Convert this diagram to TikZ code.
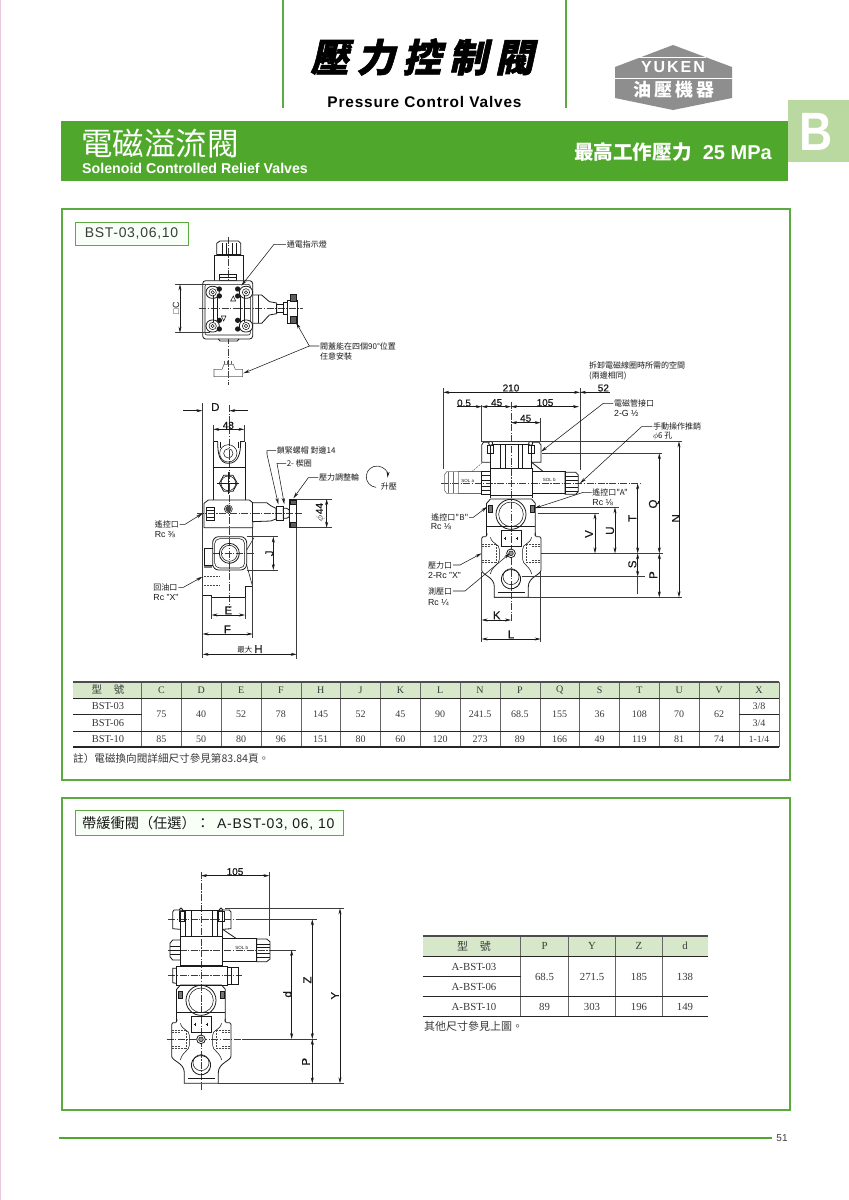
\documentclass[tikz,border=0pt]{standalone}
\usepackage{fontspec}
\usetikzlibrary{arrows.meta,calc}
\setmainfont{Liberation Sans}
\newfontfamily\cjk{Noto Sans CJK TC}
\newfontfamily\cjktitle[FakeSlant=0.22,FakeBold=1.5,LetterSpace=20]{Noto Sans CJK TC}
\newfontfamily\rmser{Liberation Serif}
\newfontfamily\dimf[FakeBold=0.5]{Liberation Sans}
\definecolor{barg}{HTML}{4FA82C}
\definecolor{edgeg}{HTML}{5CAB40}
\definecolor{tabg}{HTML}{B9D9A0}
\definecolor{headg}{HTML}{D6E8C9}
\definecolor{logog}{HTML}{8E8E8E}
\definecolor{inkc}{HTML}{1A1A1A}
\definecolor{tabtxt}{HTML}{3A3A3A}
\newcommand{\fsz}[1]{\fontsize{#1}{#1}\selectfont}
\tikzset{
 ln/.style={line width=.55pt,draw=inkc},
 bodyl/.style={line width=.8pt,draw=inkc},
 thinl/.style={line width=.45pt,draw=inkc!85},
 cl/.style={line width=.4pt,draw=inkc!85,dash pattern=on 7pt off 1.5pt on 1.2pt off 1.5pt},
 hid/.style={line width=.4pt,draw=inkc!80,dash pattern=on 2pt off 1pt},
 dl/.style={ln,{Stealth[length=6pt,width=3pt]}-{Stealth[length=6pt,width=3pt]}},
 da/.style={ln,-{Stealth[length=6pt,width=3pt]}},
 lead/.style={ln,-{Stealth[length=6.5pt,width=3pt]}},
 dt/.style={inner sep=0pt,text=inkc,font=\dimf\fsz{10}},
 dtl/.style={inner sep=0pt,text=inkc,font=\dimf\fsz{11.5}},
 lb/.style={inner sep=.6pt,text=inkc,font=\cjk\fsz{8},anchor=west},
 lbr/.style={inner sep=.6pt,text=inkc,font=\fsz{8.8},anchor=west},
 tt/.style={inner sep=0pt,text=tabtxt,font=\rmser\fsz{10}},
 panel/.style={draw=edgeg,line width=1.6pt,fill=white},
 tagbox/.style={draw=edgeg,line width=1pt,fill=green!3!white},
}
\newcommand{\lowerbody}[2]{%
 \begin{scope}[shift={(#1,#2)}]
 \draw[bodyl] (-73,-150)--(-62,-163)--(62,-163)--(73,-150)--(73,-52);
 \draw[bodyl] (-73,-150)--(-73,-52);
 \draw[ln] (-73,-80)--(73,-80);
 \draw[bodyl] (-76,-50) .. controls (-70,-52) and (-72,-60) .. (-73,-62);
 \draw[bodyl] (76,-50) .. controls (70,-52) and (72,-60) .. (73,-62);
 \draw[bodyl] (-76,-50)--(-84,-50)--(-88,-45)--(-88,50) .. controls (-88,65) and (-50,70) .. (-50,100)--(-50,132)--(52,132)--(52,100) .. controls (52,70) and (90,65) .. (90,50)--(90,-45)--(86,-50)--(76,-50);
 \draw[ln] (-62,-48) .. controls (-55,-25) and (-35,-30) .. (-35,-12)--(-35,18) .. controls (-35,35) and (-55,35) .. (-62,62);
 \draw[ln] (62,-48) .. controls (55,-25) and (35,-30) .. (35,-12)--(35,18) .. controls (35,35) and (55,35) .. (62,62);
 \draw[hid] (-86,-28)--(-45,-28) (-86,28)--(-45,28) (-45,-28)--(-45,28) (-86,-20)--(-60,-20) (-86,20)--(-60,20);
 \draw[hid] (88,-28)--(47,-28) (88,28)--(47,28) (47,-28)--(47,28) (88,-20)--(62,-20) (88,20)--(62,20);
 \draw[bodyl] (0,-117) circle[radius=45];
 \draw[ln] (0,-117) circle[radius=37];
 \draw[bodyl] (-30,-70) rectangle (32,-20);
 \draw[ln] (-22,-45)--(-14,-45) (-18,-50)--(-18,-40) (14,-45)--(22,-45) (18,-50)--(18,-40);
 \draw[bodyl,fill=inkc!60] (-68,-144) rectangle (-56,-124);
 \draw[bodyl,fill=inkc!60] (57,-144) rectangle (69,-124);
 \draw[bodyl,fill=white] (0,0) circle[radius=13];
 \draw[ln,fill=inkc!45] (0,0) circle[radius=7];
 \draw[bodyl] (-28,85) arc[start angle=165,end angle=-345,radius=29];
 \draw[ln] (0,70) circle[radius=24];
 \draw[ln] (-40,118)--(42,118);
 \end{scope}}
\begin{document}
\begin{tikzpicture}[x=1pt,y=-1pt]
\useasboundingbox (0,0) rectangle (849,1200);
\fill[white] (0,0) rectangle (849,1200);
\fill[pink!50!violet!35!white] (0,0) rectangle (1.2,1200);
% header
\draw[edgeg,line width=1.3pt] (283,0)--(283,108) (566,0)--(566,108);
\node[inner sep=0pt,text=black] (ttl) at (422,57) {\cjktitle\bfseries\fsz{38.5}壓力控制閥};
\node[inner sep=0pt,text=black] (ttlen) at (424.5,102) {\addfontfeature{LetterSpace=5.5}\bfseries\fsz{15.4}Pressure Control Valves};
\fill[logog] (673,45)--(732,67)--(732,98)--(673,110)--(615,98)--(615,67)--cycle;
\draw[white,line width=1pt] (615,78)--(732,78);
\draw[white,line width=1pt] (639,57)--(706,57);
\node[inner sep=0pt,text=white] (ykn) at (673,67) {\addfontfeature{LetterSpace=12}\bfseries\fsz{16}YUKEN};
\node[inner sep=0pt,text=white] (yjp) at (674,90) {\cjk\addfontfeature{LetterSpace=18}\bfseries\fsz{18}油壓機器};
\fill[barg] (60.5,121) rectangle (788,181);
\fill[tabg] (788,100) rectangle (849,162);
\node[inner sep=0pt,text=white,transform shape,xscale=.85] (bmark) at (816,132) {\bfseries\fsz{54}B};
\node[inner sep=0pt,text=white,anchor=west] (cnt) at (81,144) {\cjk\fsz{31.5}電磁溢流閥};
\node[inner sep=0pt,text=white,anchor=west] (ent) at (82,168) {\bfseries\fsz{14.2}Solenoid Controlled Relief Valves};
\node[inner sep=0pt,text=white,anchor=east] (prs) at (772,152) {\bfseries\fsz{20}{\cjk\bfseries\fsz{19.6}最高工作壓力}\ \ 25 MPa};
% panels
\draw[panel] (62,209) rectangle (790,780);
\draw[panel] (62,798) rectangle (790,1110);
\draw[tagbox] (75,222) rectangle (188,245);
\node[inner sep=0pt,text=inkc!85] (tag1) at (131.5,233.5) {\addfontfeature{LetterSpace=5}\fsz{14}BST-03,06,10};
\draw[tagbox] (75,810) rectangle (343,835);
\node[inner sep=0pt,text=inkc,anchor=west] (tag2) at (82,823) {{\cjk\fsz{14.2}帶緩衝閥（任選）：}\hspace{7pt}\addfontfeature{LetterSpace=5.5}\fsz{14}A-BST-03, 06, 10};
% footer
\draw[barg,line width=1.2pt] (59,1138)--(772,1138);
\node[inner sep=0pt,text=inkc!85] (pg) at (782,1138) {\fsz{10}51};

% ---------- Table 1
\fill[headg] (73,682) rectangle (779,698);
\foreach \i in {0,...,16}{\draw[line width=.5pt,draw=black!60] ({141.5+39.83*\i},682)--({141.5+39.83*\i},747);}
\draw[line width=1.2pt,draw=black!70] (73,682)--(779,682);
\draw[line width=1pt,draw=black!85] (73,698)--(779,698);
\draw[line width=.9pt,draw=black!85] (73,714.4)--(141.5,714.4) (739,714.4)--(779,714.4);
\draw[line width=1pt,draw=black!85] (73,731)--(779,731);
\draw[line width=1.2pt,draw=black!85] (73,747)--(779,747);
\node[tt,font=\cjk\fsz{10.5}] (h0) at (108,690) {型\hspace{12pt}號};
\node[tt,font=\rmser\fsz{10.5}] (m1) at (108,706.5) {BST-03};
\node[tt,font=\rmser\fsz{10.5}] (m2) at (108,723) {BST-06};
\node[tt,font=\rmser\fsz{10.5}] (m3) at (108,739) {BST-10};
\foreach \n/\a/\b [count=\i from 0] in {C/75/85,D/40/50,E/52/80,F/78/96,H/145/151,J/52/80,K/45/60,L/90/120,N/241.5/273,P/68.5/89,Q/155/166,S/36/49,T/108/119,U/70/81,V/62/74}{
 \node[tt,name=hc\i] at ({161.4+39.83*\i},690) {\n};
 \node[tt,name=va\i] at ({161.4+39.83*\i},714.5) {\a};
 \node[tt,name=vb\i] at ({161.4+39.83*\i},739) {\b};
}
\node[tt] (hx) at (759,690) {X};
\node[tt] (x1) at (759,706.5) {3/8};
\node[tt] (x2) at (759,723) {3/4};
\node[tt,font=\rmser\fsz{9.5}] (x3) at (759,739) {1-1/4};
\node[inner sep=0pt,text=tabtxt,anchor=west] (nt1) at (73,758.5) {\cjk\fsz{10.6}註）電磁換向閥詳細尺寸參見第83.84頁。};

% ---------- Table 2
\fill[headg] (422.7,936) rectangle (708,956);
\foreach \x in {520.7,568,615.7,662.7}{\draw[line width=.5pt,draw=black!60] (\x,936)--(\x,1016.7);}
\draw[line width=1.2pt,draw=black!70] (422.7,936)--(708,936);
\draw[line width=1pt,draw=black!85] (422.7,956.3)--(708,956.3);
\draw[line width=.9pt,draw=black!85] (422.7,976.3)--(520.7,976.3);
\draw[line width=1pt,draw=black!85] (422.7,996.7)--(708,996.7);
\draw[line width=1.2pt,draw=black!85] (422.7,1016.7)--(708,1016.7);
\tikzset{t2/.style={tt,font=\rmser\fsz{10.8}}}
\node[t2,font=\cjk\fsz{11}] (k0) at (474,946) {型\hspace{12pt}號};
\node[t2] (k1) at (474,966.5) {A-BST-03};
\node[t2] (k2) at (474,987) {A-BST-06};
\node[t2] (k3) at (474,1007) {A-BST-10};
\foreach \n/\a/\b/\x [count=\i] in {P/68.5/89/544.5,Y/271.5/303/592,Z/185/196/639,d/138/149/685}{
 \node[t2,name=kh\i] at (\x,946) {\n};
 \node[t2,name=ka\i] at (\x,976.5) {\a};
 \node[t2,name=kb\i] at (\x,1007) {\b};
}
\node[inner sep=0pt,text=tabtxt,anchor=west] (nt2) at (424,1026.7) {\cjk\fsz{11}其他尺寸參見上圖。};

% ---------- Fig A (top view)
\begin{scope}[shift={(70,215)},x=.33333pt,y=-.33333pt]
\draw[cl] (476,65)--(476,510);
\draw[cl] (388,280)--(700,280);
\draw[bodyl] (440,122)--(440,85)--(450,78)--(505,78)--(512,85)--(512,122);
\draw[ln] (458,85)--(458,118) (468,85)--(468,118) (486,85)--(486,118) (498,85)--(498,118) (440,118)--(512,118);
\draw[bodyl] (432,200)--(432,122)--(520,122)--(520,200);
\draw[ln] (448,178)rectangle(500,197) (448,186)--(500,186);
\draw[bodyl,rounded corners=3pt,fill=white] (398,197) rectangle (548,372);
\draw[ln,rounded corners=2pt] (405,208) rectangle (541,360);
\draw[bodyl] (445,372)--(450,378)--(502,378)--(507,372);
\foreach \px/\py in {428/232,528/232,428/333,528/333}{
 \draw[bodyl,fill=white,rounded corners=6pt] (\px-20,\py-18) rectangle (\px+20,\py+18);
 \draw[ln] (\px,\py) circle[radius=11];
 \draw[ln] (\px,\py) circle[radius=5];
}
\draw[cl] (388,280)--(700,280);
\draw[ln] (430,240)--(430,320) (442,240)--(442,320) (510,240)--(510,320) (522,240)--(522,320);
\foreach \px/\py in {448/222,448/243,503/222,503/243,448/316,448/342,503/316,503/342}{
 \fill[inkc] (\px,\py) circle[radius=8];
}
\draw[ln] (482,258)--(497,258)--(490,243)--cycle (454,303)--(468,303)--(461,318)--cycle;
\draw[bodyl] (548,240)--(575,240)--(598,260)--(620,264)--(620,296)--(598,300)--(575,325)--(548,325);
\draw[ln] (565,240)--(565,325);
\draw[bodyl] (620,268) rectangle (640,292);
\draw[bodyl] (640,262)--(652,262)--(652,298)--(640,298)--cycle;
\draw[bodyl] (652,255) rectangle (682,325);
\draw[bodyl,fill=inkc!70] (660,238) rectangle (680,258);
\draw[bodyl,fill=inkc!70] (660,305) rectangle (680,325);
% lower small view
\draw[ln,draw=inkc!70] (432,463)--(432,485)--(518,485)--(518,463)--(496,463)--(490,448)--(462,448)--(456,463)--cycle;
\draw[ln,draw=inkc!70] (464,437)--(464,448) (472,437)--(472,448) (484,437)--(484,448);
% dims
\draw[thinl] (315,208)--(420,208) (315,353)--(420,353);
\draw[dl] (330,208)--(330,353);
\node[dt,rotate=90,font=\fsz{9}] (dimC) at (318,280) {□C};
% labels
\node[lb] (l1) at (648,88) {通電指示燈};
\coordinate (l1a) at (514,212);
\draw[lead] (l1.west)--(612,88)--(l1a);
\node[lb] (l2) at (748,393) {閥蓋能在四個90°位置};
\node[lb] (l2b) at (748,424) {任意安裝};
\coordinate (l2a) at (678,322);
\coordinate (l2c) at (520,475);
\draw[lead] (l2.west)--(718,393)--(l2a);
\draw[lead] (718,393)--(l2c);
\end{scope}

% ---------- Fig B (front view)
\begin{scope}[shift={(130,395)},x=.33333pt,y=-.33333pt]
\draw[cl] (298,30)--(298,640);
\draw[cl] (200,355)--(515,355);
\draw[cl] (250,475)--(375,475);
% top block
\draw[bodyl] (250,140)--(250,315) (345,140)--(345,315) (250,218)--(345,218);
\draw[bodyl] (250,140)--(265,140) (330,140)--(345,140);
\draw[bodyl] (263,140) .. controls (263,175) and (268,205) .. (295,205) .. controls (325,205) and (332,175) .. (332,140);
\draw[ln] (270,140)--(270,160) (325,140)--(325,160);
\draw[ln] (295,175) circle[radius=26];
\draw[ln] (295,175) circle[radius=14];
\draw[bodyl] (268,265)--(281,241)--(309,241)--(322,265)--(309,289)--(281,289)--cycle;
\draw[ln] (295,265) circle[radius=22];
\draw[ln] (262,265)--(328,265) (295,232)--(295,298);
% main block
\draw[bodyl] (222,398)--(222,325)--(235,315)--(358,315)--(368,323)--(410,323)--(422,332)--(438,340)--(438,372)--(422,378)--(368,380)--(368,398)--cycle;
\draw[ln] (368,323)--(368,380);
\draw[ln] (228,338) rectangle (252,375);
\draw[ln] (228,346)--(252,346) (228,366)--(252,366);
\fill[inkc!80] (295,342) circle[radius=9];
\draw[ln] (295,342) circle[radius=12];
% knob
\draw[bodyl] (438,335) rectangle (460,375);
\draw[bodyl] (460,340)--(470,340)--(478,345)--(478,365)--(470,370)--(460,370)--cycle;
\draw[bodyl] (478,312) rectangle (500,398);
\draw[bodyl,fill=inkc!70] (481,315) rectangle (498,328);
\draw[bodyl,fill=inkc!70] (481,382) rectangle (498,396);
% lower
\draw[bodyl] (218,398)--(218,602)--(245,602)--(245,607)--(345,607)--(345,575)--(368,575)--(368,398);
\draw[bodyl,rounded corners=6pt] (248,425) rectangle (350,525);
\draw[ln,rounded corners=5pt] (254,431) rectangle (344,519);
\draw[bodyl] (298,475) circle[radius=30];
\draw[ln] (298,475) circle[radius=24];
\draw[ln] (222,460)--(248,460) (222,510)--(248,510) (222,460)--(222,510);
\draw[ln] (350,465)--(372,428) (350,510)--(368,575);
\draw[hid] (222,545)--(270,545) (222,570)--(270,570);
\fill[inkc!60] (222,512) rectangle (245,520);
% dims
\draw[thinl] (217,25)--(217,790);
\draw[da] (160,47)--(217,47);
\draw[da] (355,47)--(298,47);
\node[dtl] (dD) at (256,36) {D};
\draw[thinl] (250,90)--(250,140) (343,90)--(343,140);
\draw[dl] (250,103)--(343,103);
\node[dt] (d48) at (295,91) {48};
\draw[thinl] (500,312)--(605,312) (500,398)--(605,398);
\draw[dl] (590,312)--(590,398);
\node[dt,rotate=90] (d44) at (571,352) {$\phi$\,44};
\draw[thinl] (350,425)--(445,425) (350,525)--(445,525);
\draw[dl] (430,425)--(430,525);
\node[dtl,rotate=90] (dJ) at (418,475) {J};
\draw[thinl] (245,607)--(245,672) (345,607)--(345,672);
\draw[dl] (245,660)--(345,660);
\node[dtl] (dE) at (295,646) {E};
\draw[thinl] (368,398)--(368,730);
\draw[dl] (218,717)--(368,717);
\node[dtl] (dF) at (292,703) {F};
\draw[thinl] (500,398)--(500,792);
\draw[dl] (218,778)--(500,778);
\node[dtl] (dH) at (360,763) {{\cjk\fsz{7.5}最大}\,H};
% labels
\node[lb] (b1) at (72,388) {遙控口};
\node[lbr] (b1b) at (72,420) {Rc ⅜};
\coordinate (b1a) at (218,355);
\draw[lead] (b1.east)--(165,388)--(b1a);
\node[lb] (b2) at (68,577) {回油口};
\node[lbr] (b2b) at (68,608) {Rc "X"};
\coordinate (b2a) at (218,545);
\draw[lead] (b2.east)--(160,577)--(b2a);
\node[lb] (b3) at (438,167) {鎖緊螺帽 對邊14};
\coordinate (b3a) at (445,328);
\draw[lead] (b3.west)--(411,167)--(411,178)--(b3a);
\node[lb] (b4) at (468,205) {2- 楔圈};
\coordinate (b4a) at (463,328);
\draw[lead] (b4.west)--(441,205)--(b4a);
\node[lb] (b5) at (565,248) {壓力調整輪};
\coordinate (b5a) at (490,310);
\draw[lead] (b5.west)--(535,248)--(b5a);
\draw[ln,-{Stealth[length=6pt,width=3pt]}] (738,277) arc[start angle=95,end angle=365,radius=32];
\node[lb] (b6) at (750,275) {升壓};
\end{scope}

% ---------- Fig C (side view)
\begin{scope}[shift={(415,355)},x=.33333pt,y=-.33333pt]
\draw[cl] (288,140)--(288,800);
\draw[cl] (78,385)--(680,385);
% housing
\draw[bodyl] (225,340)--(225,267)--(350,267)--(350,340);
\draw[ln] (255,267)--(255,340) (270,267)--(270,340) (310,267)--(310,340) (322,267)--(322,340);
\draw[bodyl] (225,262)--(205,262)--(200,270)--(200,322)--(225,322);
\draw[bodyl] (350,262)--(372,262)--(378,270)--(378,322)--(350,322);
\draw[ln] (218,270) rectangle (236,296) (340,270) rectangle (358,296);
\draw[bodyl,fill=white] (227,265) circle[radius=6] (347,265) circle[radius=6];
\draw[bodyl] (225,340) rectangle (352,420);
% left solenoid
\draw[ln,draw=inkc!65] (88,360)--(88,405)--(95,415)--(130,415)--(130,350)--(95,350)--cycle;
\draw[ln,draw=inkc!65] (130,350)--(198,350) (130,415)--(198,415) (100,350)--(100,415) (115,350)--(115,415);
\draw[hid] (170,350)--(200,325);
\draw[bodyl] (198,350) rectangle (225,418);
\draw[ln] (198,362)--(225,362) (198,375)--(225,375) (198,395)--(225,395) (198,407)--(225,407);
\node[inner sep=0pt,font=\fsz{4.5},text=inkc] (sa) at (158,378) {SOL a};
% right solenoid
\draw[bodyl] (352,350)--(450,350)--(450,416)--(352,416);
\draw[bodyl] (350,322)--(385,350);
\node[inner sep=0pt,font=\fsz{4.5},text=inkc] (sb) at (403,376) {SOL b};
\draw[bodyl] (450,352)--(482,352)--(490,360)--(490,410)--(482,418)--(450,418)--cycle;
\draw[ln] (450,365)--(490,365) (450,377)--(490,377) (450,397)--(490,397) (450,408)--(490,408);
\draw[bodyl] (225,420)--(225,430) (352,420)--(352,430);
\lowerbody{288}{595}
% dims
\draw[thinl] (85,100)--(85,342) (495,100)--(495,345) (200,150)--(200,262) (377,190)--(377,262);
\draw[dl] (85,112)--(495,112);
\draw[ln,{Stealth[length=6pt,width=3pt]}-] (495,112)--(585,112);
\node[dt] (c210) at (288,99) {210};
\node[dt] (c52) at (565,99) {52};
\draw[da] (125,155)--(200,155);
\draw[dl] (200,155)--(288,155);
\draw[dl] (288,155)--(492,155);
\node[dt] (c05) at (147,144) {0.5};
\node[dt] (c45a) at (245,143) {45};
\node[dt] (c105) at (390,143) {105};
\draw[dl] (288,203)--(377,203);
\node[dt] (c45b) at (332,190) {45};
% horizontals
\draw[thinl] (200,259)--(802,259);
\draw[thinl] (238,727)--(802,727);
\draw[thinl] (380,295)--(742,295);
\draw[thinl] (378,595)--(745,595);
\draw[thinl] (360,457)--(612,457);
\draw[thinl] (368,475)--(552,475);
\draw[thinl] (320,665)--(690,665);
\draw[dl] (792,259)--(792,727);
\node[dtl,rotate=90] (cN) at (783,490) {N};
\draw[dl] (733,295)--(733,595);
\node[dtl,rotate=90] (cQ) at (717,447) {Q};
\draw[dl] (733,595)--(733,727);
\node[dtl,rotate=90] (cP) at (715,660) {P};
\draw[dl] (668,385)--(668,595);
\node[dtl,rotate=90] (cT) at (652,490) {T};
\draw[dl] (668,595)--(668,665);
\draw[thinl] (668,665)--(668,718);
\node[dtl,rotate=90] (cS) at (652,628) {S};
\draw[dl] (600,457)--(600,595);
\node[dtl,rotate=90] (cU) at (585,527) {U};
\draw[dl] (540,475)--(540,595);
\node[dtl,rotate=90] (cV) at (522,537) {V};
\draw[thinl] (200,650)--(200,860) (377,650)--(377,860);
\draw[dl] (200,795)--(288,795);
\node[dtl] (cK) at (245,781) {K};
\draw[dl] (200,852)--(377,852);
\node[dtl] (cL) at (288,838) {L};
% labels
\node[lb] (c1) at (520,32) {拆卸電磁線圈時所需的空間};
\node[lb] (c1b) at (520,63) {(兩邊相同)};
\node[lb] (c2) at (595,145) {電磁管接口};
\node[lbr] (c2b) at (595,175) {2-G ½};
\coordinate (c2a) at (378,290);
\draw[lead] (c2.west)--(565,145)--(c2a);
\node[lb] (c3) at (712,215) {手動操作推銷};
\node[lb] (c3b) at (712,243) {$\phi$6 孔};
\coordinate (c3a) at (495,385);
\draw[lead] (c3.west)--(680,215)--(c3a);
\node[lb] (c4) at (530,412) {遙控口"A"};
\node[lbr] (c4b) at (530,443) {Rc ⅛};
\coordinate (c4a) at (358,460);
\draw[lead] (c4.west)--(505,412)--(c4a);
\node[lb] (c5) at (47,487) {遙控口"B"};
\node[lbr] (c5b) at (45,515) {Rc ⅛};
\coordinate (c5a) at (217,455);
\draw[lead] (c5.east)--(175,487)--(c5a);
\node[lb] (c6) at (37,630) {壓力口};
\node[lbr] (c6b) at (37,660) {2-Rc "X"};
\coordinate (c6a) at (200,595);
\draw[lead] (c6.east)--(135,630)--(c6a);
\node[lb] (c7) at (37,708) {測壓口};
\node[lbr] (c7b) at (37,742) {Rc ¼};
\coordinate (c7a) at (285,595);
\draw[lead] (c7.east)--(150,708)--(c7a);
\end{scope}

% ---------- Fig D
\begin{scope}[shift={(150,860)},x=.33333pt,y=-.33333pt]
\draw[cl] (153,35)--(153,690);
\draw[cl] (55,178)--(260,178);
\draw[cl] (55,270)--(382,270);
\draw[cl] (55,345)--(275,345);
\draw[cl] (50,537)--(280,537);
\draw[bodyl] (90,228)--(90,150)--(218,150)--(218,228);
\draw[ln] (125,150)--(125,228) (107,150)--(107,228) (186,150)--(186,228) (203,150)--(203,228);
\draw[bodyl] (90,150)--(72,150)--(68,156)--(68,206)--(90,208);
\draw[bodyl] (218,150)--(238,150)--(243,156)--(243,206)--(218,208);
\draw[ln] (88,155) rectangle (104,185) (206,155) rectangle (222,185);
\draw[bodyl,fill=white] (93,149) circle[radius=5] (213,149) circle[radius=5];
\draw[bodyl] (90,228) rectangle (218,315);
\draw[bodyl] (90,240)--(68,240)--(60,250)--(60,290)--(68,300)--(90,300);
\draw[ln] (60,258)--(90,258) (60,270)--(90,270) (60,282)--(90,282);
\draw[bodyl] (218,235)--(320,235)--(320,303)--(218,303);
\draw[bodyl] (218,208)--(258,235);
\node[inner sep=0pt,font=\fsz{4.5},text=inkc] (da) at (275,263) {SOL b};
\draw[bodyl] (320,237)--(350,237)--(360,245)--(360,297)--(350,305)--(320,305)--cycle;
\draw[ln] (320,252)--(360,252) (320,262)--(360,262) (320,280)--(360,280) (320,292)--(360,292);
\draw[bodyl] (78,320) rectangle (232,375);
\draw[bodyl] (78,325)--(68,325)--(68,368)--(78,370);
\draw[bodyl] (232,322)--(265,322)--(265,372)--(232,372);
\draw[ln] (245,322)--(245,372);
\lowerbody{153}{538}
% dims
\draw[thinl] (358,35)--(358,228);
\draw[dl] (153,47)--(358,47);
\node[dt] (d105) at (255,35) {105};
\draw[thinl] (225,145)--(582,145);
\draw[thinl] (205,670)--(582,670);
\draw[thinl] (262,178)--(500,178);
\draw[thinl] (375,270)--(438,270);
\draw[thinl] (280,537)--(500,537);
\draw[dl] (570,145)--(570,670);
\node[dtl,rotate=90] (dY) at (555,407) {Y};
\draw[dl] (487,178)--(487,537);
\node[dtl,rotate=90] (dZ) at (472,360) {Z};
\draw[dl] (487,537)--(487,670);
\node[dtl,rotate=90] (dP) at (468,605) {P};
\draw[dl] (425,270)--(425,537);
\node[dtl,rotate=90] (dd) at (412,403) {d};
\end{scope}
\end{tikzpicture}
\end{document}
